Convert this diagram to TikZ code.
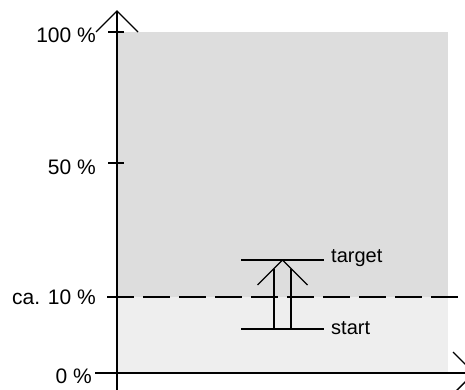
\documentclass[tikz,border=0pt]{standalone}
\usepackage{fontspec}
\setmainfont{Liberation Sans}
\begin{document}
\begin{tikzpicture}[x=1pt,y=-1pt,
  ln/.style={line width=1.4pt,black},
  lbl/.style={font=\fontsize{20}{24}\selectfont,inner sep=0pt},
  plbl/.style={font=\fontsize{21}{25}\selectfont,inner sep=0pt},
  dashln/.style={ln,dash pattern=on 26.5pt off 9.5pt}]
\useasboundingbox (0,0) rectangle (465,390);
\clip (0,0) rectangle (465,390);
% regions
\fill[fill={rgb,255:red,221;green,221;blue,221}] (118,32) rectangle (448,297);
\fill[fill={rgb,255:red,238;green,238;blue,238}] (118,297) rectangle (448,373);
% axes
\coordinate (ybot) at (117,390);
\coordinate (ytip) at (117,11);
\coordinate (ywl) at (96,32);
\coordinate (ywr) at (138,32);
\draw[ln] (ybot) -- (ytip);
\draw[ln] (ywl) -- (ytip) -- (ywr);
\coordinate (xl) at (95,373);
\coordinate (xtip) at (474,373);
\coordinate (xwu) at (453,352);
\coordinate (xwd) at (453,394);
\draw[ln] (xl) -- (xtip);
\draw[ln] (xwu) -- (xtip) -- (xwd);
% ticks
\coordinate (t100a) at (108,32); \coordinate (t100b) at (124,32);
\coordinate (t50a) at (108,163); \coordinate (t50b) at (124,163);
\draw[ln] (t100a) -- (t100b);
\draw[ln] (t50a) -- (t50b);
\coordinate (d1) at (107,297); \coordinate (d2) at (470,297);
\draw[dashln] (d1) -- (d2);
% labels
\node[plbl,anchor=base east] (l100) at (96,43) {100 \%};
\node[plbl,anchor=base east] (l50) at (96,174) {50 \%};
\node[plbl,anchor=base east] (l10) at (96,304) {ca. 10 \%};
\node[plbl,anchor=base east] (l0) at (92,383) {0 \%};
% target / start
\coordinate (tgl) at (241,260); \coordinate (tgr) at (324,260);
\coordinate (stl) at (241,329); \coordinate (str) at (324,329);
\draw[ln] (tgl) -- (tgr);
\draw[ln] (stl) -- (str);
\coordinate (atip) at (282.5,260);
\coordinate (awl) at (257.5,285);
\coordinate (awr) at (307.5,285);
\draw[ln] (awl) -- (atip) -- (awr);
\coordinate (s1b) at (274,329); \coordinate (s1t) at (274,268.5);
\coordinate (s2b) at (291,329); \coordinate (s2t) at (291,268.5);
\draw[ln] (s1b) -- (s1t);
\draw[ln] (s2b) -- (s2t);
\node[lbl,anchor=base west] (ltarget) at (331,262) {target};
\node[lbl,anchor=base west] (lstart) at (331,334) {start};
\end{tikzpicture}
\end{document}
